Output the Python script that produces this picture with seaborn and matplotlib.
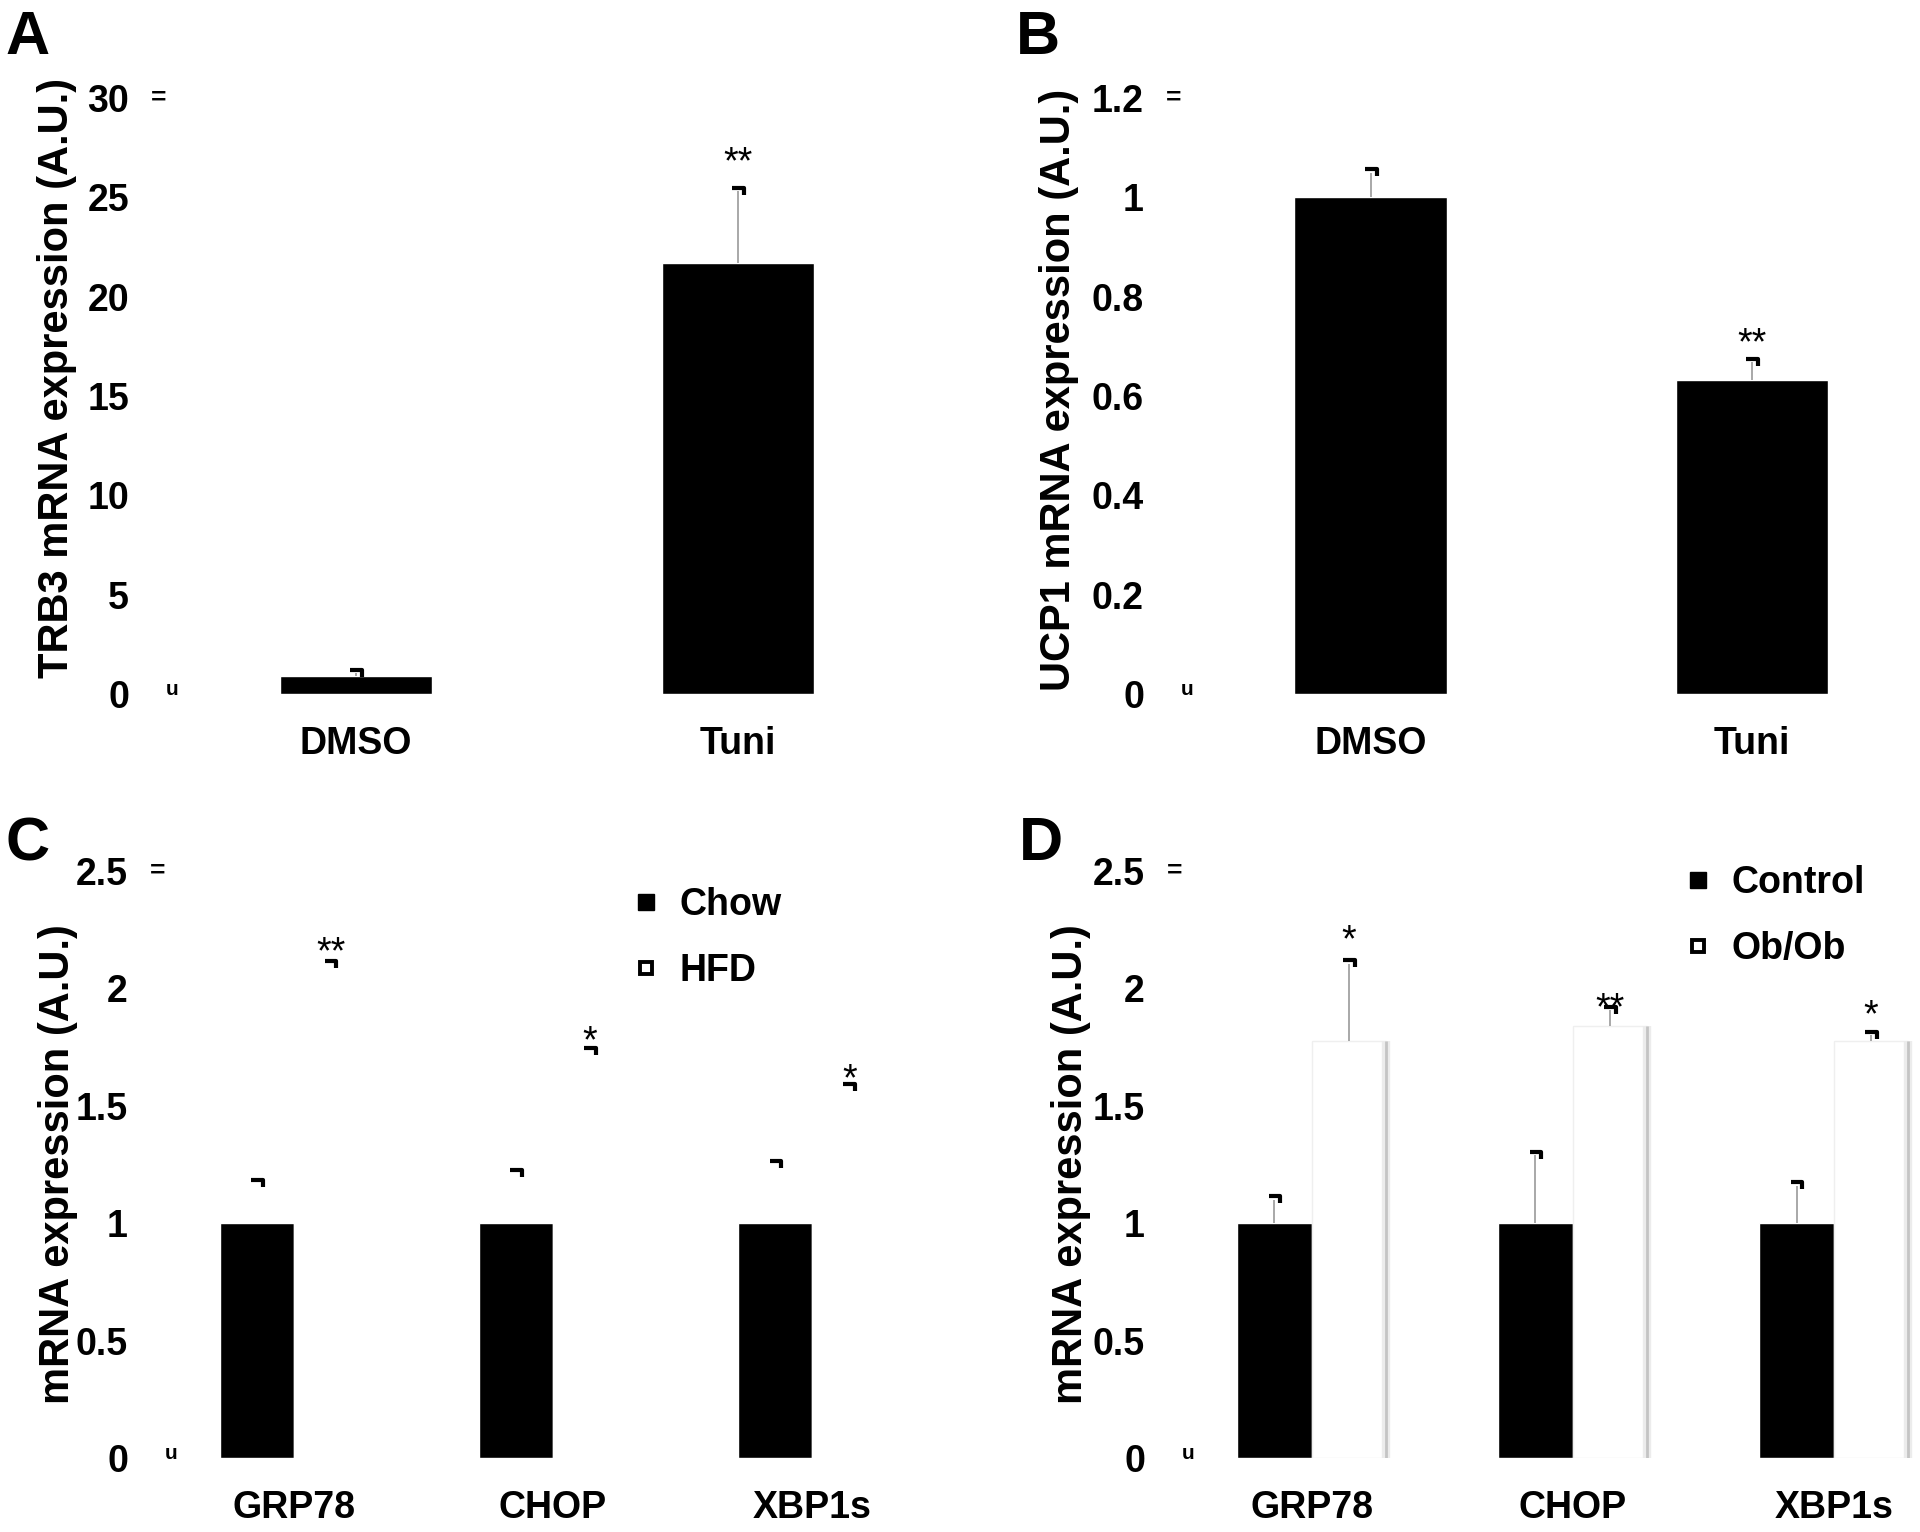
import numpy as np
import pandas as pd
import matplotlib
matplotlib.use("Agg")
import matplotlib.pyplot as plt
from matplotlib.path import Path
from matplotlib.lines import Line2D
import seaborn as sns

# ---------------- data ----------------
ab_groups = ["DMSO", "Tuni"]

trb3_mean = [0.92, 21.7]
trb3_err = [0.12, 3.6]
trb3_star = ["", "**"]
trb3_star_y = [None, 26.7]

ucp1_mean = [1.0, 0.633]
ucp1_err = [0.05, 0.035]
ucp1_star = ["", "**"]
ucp1_star_y = [None, 0.705]

genes = ["GRP78", "CHOP", "XBP1s"]

# panel C (HFD bars are drawn white, as in the original)
chow_mean = [1.0, 1.0, 1.0]
chow_err = [0.17, 0.21, 0.25]
hfd_mean = [1.95, 1.63, 1.48]
hfd_err = [0.15, 0.10, 0.10]
c_star = ["**", "*", "*"]
c_star_y = [2.15, 1.77, 1.61]

# panel D
ctrl_mean = [1.0, 1.0, 1.0]
ctrl_err = [0.10, 0.29, 0.16]
obob_mean = [1.776, 1.84, 1.776]
obob_err = [0.33, 0.066, 0.024]
d_star = ["*", "**", "*"]
d_star_y = [2.2, 1.91, 1.88]

# ---------------- style ----------------
sns.set_style("white")
plt.rcParams["font.family"] = ["Liberation Sans", "DejaVu Sans"]
for k in ["text.color", "axes.labelcolor", "xtick.color", "ytick.color"]:
    plt.rcParams[k] = "black"
FONT = ["Liberation Sans", "DejaVu Sans"]

cap_marker = Path([(-1, 0.6), (1, 0.6), (1, -0.6)],
                  [Path.MOVETO, Path.LINETO, Path.LINETO])

fig = plt.figure(figsize=(19.2, 15.32), dpi=100)

W, H = 1920, 1532


def make_ax(left, top, right, bottom):
    return fig.add_axes([left / W, 1 - bottom / H, (right - left) / W, (bottom - top) / H])


def style_ax(ax, ylabel, ymax, step, fmt, label_xy):
    ax.set_ylim(0, ymax)
    ticks = np.arange(0, ymax + step / 2, step)
    ax.set_yticks(ticks)
    ax.set_yticklabels([fmt(t) for t in ticks], fontsize=27, fontweight="bold", family=FONT)
    for lab in ax.get_xticklabels():
        lab.set_fontsize(27)
        lab.set_fontweight("bold")
    ax.tick_params(axis="y", length=0, pad=26)
    ax.tick_params(axis="x", length=0, pad=23)
    ax.set_xlabel("")
    ax.set_ylabel(ylabel, fontsize=30, fontweight="bold", family=FONT)
    ax.yaxis.set_label_coords(label_xy[0], label_xy[1])
    sns.despine(ax=ax, left=True, bottom=True)
    # the odd little marks left over on the original axis line
    w = ax.get_position().width * W
    ax.text(-6 / w, 1.0, "=", transform=ax.transAxes, ha="center", va="center",
            fontsize=19, fontweight="bold", family=FONT)
    ax.text(7 / w, 0.008, "u", transform=ax.transAxes, ha="center", va="center",
            fontsize=15, fontweight="bold", family=FONT)


def add_err(ax, xs, means, errs, show_line=True):
    xs = np.asarray(xs)
    tops = np.asarray(means) + np.asarray(errs)
    if show_line:
        ax.vlines(xs, means, tops, color="#9a9a9a", lw=1.2, zorder=3)
    ax.scatter(xs, tops, marker=cap_marker, s=70, facecolor="none",
               edgecolor="black", linewidth=3, zorder=4)


def add_stars(ax, xs, stars, ys):
    for x, s, y in zip(xs, stars, ys):
        if s:
            ax.text(x, y, s, ha="center", va="center", fontsize=27, family=FONT)


def fmt_num(t):
    return f"{t:g}"


def add_legend(ax, labels, x, y):
    handles = [Line2D([], [], marker="s", ls="none", markersize=12, color="black"),
               Line2D([], [], marker="s", ls="none", markersize=8, markerfacecolor="white",
                      markeredgecolor="black", markeredgewidth=2.8)]
    ax.legend(handles, labels, loc="upper left", bbox_to_anchor=(x / W, 1 - y / H),
              bbox_transform=fig.transFigure, frameon=False, borderpad=0, handlelength=0.8,
              handletextpad=0.5, labelspacing=0.8,
              prop={"family": FONT, "weight": "bold", "size": 27})


# ---------------- panel A ----------------
axA = make_ax(165, 98, 929, 694)
dfA = pd.DataFrame({"group": ab_groups, "value": trb3_mean})
sns.barplot(data=dfA, x="group", y="value", color="black", width=0.4,
            errorbar=None, ax=axA, saturation=1)
axA.set_xlim(-0.5, 1.5)
xsA = [p.get_x() + p.get_width() / 2 for p in axA.patches]
add_err(axA, xsA, trb3_mean, trb3_err)
add_stars(axA, xsA, trb3_star, trb3_star_y)
style_ax(axA, "TRB3 mRNA expression (A.U.)", 30, 5, fmt_num, (-0.115, 0.53))

# ---------------- panel B ----------------
axB = make_ax(1180, 98, 1920, 694)
dfB = pd.DataFrame({"group": ab_groups, "value": ucp1_mean})
sns.barplot(data=dfB, x="group", y="value", color="black", width=0.4,
            errorbar=None, ax=axB, saturation=1)
axB.set_xlim(-0.5, 1.44)
xsB = [p.get_x() + p.get_width() / 2 for p in axB.patches]
add_err(axB, xsB, ucp1_mean, ucp1_err)
add_stars(axB, xsB, ucp1_star, ucp1_star_y)
style_ax(axB, "UCP1 mRNA expression (A.U.)", 1.2, 0.2, fmt_num, (-0.136, 0.51))

# ---------------- panel C ----------------
axC = make_ax(164, 871, 942, 1458)
dfC = pd.DataFrame({
    "gene": genes * 2,
    "diet": ["Chow"] * 3 + ["HFD"] * 3,
    "value": chow_mean + hfd_mean,
})
sns.barplot(data=dfC, x="gene", y="value", hue="diet", palette=["black", "white"],
            width=0.57, errorbar=None, ax=axC, saturation=1, legend=False)
axC.set_xlim(-0.5, 2.5)
pc = axC.patches
xs_chow = [p.get_x() + p.get_width() / 2 for p in pc[:3]]
xs_hfd = [p.get_x() + p.get_width() / 2 for p in pc[3:6]]
add_err(axC, xs_chow, chow_mean, chow_err, show_line=False)
add_err(axC, xs_hfd, hfd_mean, hfd_err, show_line=False)
add_stars(axC, xs_hfd, c_star, c_star_y)
style_ax(axC, "mRNA expression (A.U.)", 2.5, 0.5, fmt_num, (-0.11, 0.5))
add_legend(axC, ["Chow", "HFD"], 612, 868)

# ---------------- panel D ----------------
axD = make_ax(1181, 871, 1920, 1458)
dfD = pd.DataFrame({
    "gene": genes * 2,
    "group": ["Control"] * 3 + ["Ob/Ob"] * 3,
    "value": ctrl_mean + obob_mean,
})
sns.barplot(data=dfD, x="gene", y="value", hue="group", palette=["black", "white"],
            width=0.57, errorbar=None, ax=axD, saturation=1, legend=False)
axD.set_xlim(-0.5, 2.33)
pd_ = axD.patches
# soft shadow on the right side of the white bars, faint top edge
for p in pd_[3:6]:
    p.set_edgecolor("#efefef")
    p.set_linewidth(1)
    xr = p.get_x() + p.get_width()
    axD.vlines(xr, 0, p.get_height(), color="#ececec", lw=6, zorder=2)
    axD.vlines(xr, 0, p.get_height(), color="#c4c4c4", lw=2, zorder=2)
xs_ctrl = [p.get_x() + p.get_width() / 2 for p in pd_[:3]]
xs_obob = [p.get_x() + p.get_width() / 2 for p in pd_[3:6]]
add_err(axD, xs_ctrl, ctrl_mean, ctrl_err)
add_err(axD, xs_obob, obob_mean, obob_err)
add_stars(axD, xs_obob, d_star, d_star_y)
style_ax(axD, "mRNA expression (A.U.)", 2.5, 0.5, fmt_num, (-0.122, 0.5))
add_legend(axD, ["Control", "Ob/Ob"], 1664, 846)

# ---------------- panel letters ----------------
for letter, x, y in [("A", 28, 38), ("B", 1038, 38), ("C", 28, 845), ("D", 1041, 845)]:
    fig.text(x / W, 1 - y / H, letter, ha="center", va="center", fontsize=44,
             fontweight="bold", family=FONT)

fig.savefig("out.png", dpi=100, facecolor="white")
